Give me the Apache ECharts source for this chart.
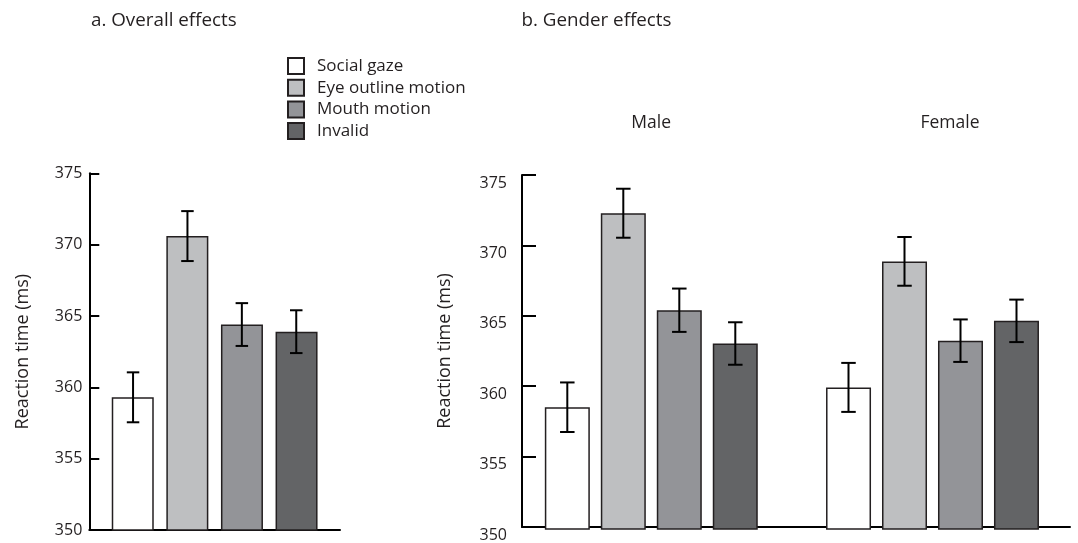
<!DOCTYPE html>
<html><head><meta charset="utf-8">
<script src="https://cdn.jsdelivr.net/npm/echarts@6/dist/echarts.min.js"></script>
<style>html,body{margin:0;padding:0;background:#fff}#c{width:1078px;height:543px}</style>
</head><body><div id="c"></div>
<script>
// ---- data ----
const conditions = ['Social gaze', 'Eye outline motion', 'Mouth motion', 'Invalid'];
const overallRT = [359.3, 370.6, 364.4, 363.9];
const overallSE = [1.75, 1.75, 1.5, 1.5];
const genders = ['Male', 'Female'];
const maleRT = [358.6, 372.3, 365.45, 363.1];
const maleSE = [1.75, 1.73, 1.53, 1.5];
const femaleRT = [360.0, 368.9, 363.3, 364.7];
const femaleSE = [1.73, 1.72, 1.5, 1.5];
const yMin = 350, yMax = 375, yStep = 5;
const panelTitles = ['a. Overall effects', 'b. Gender effects'];
const yName = 'Reaction time (ms)';

// ---- style ----
const fills = ['#ffffff', '#bebfc1', '#939498', '#636466'];
const ink = '#231f20';
const font = 'Open Sans';

function errSeries(xIdx, yIdx, rows, barW, gapPx, capW) {
  return {
    type: 'custom', xAxisIndex: xIdx, yAxisIndex: yIdx, z: 10, silent: true,
    data: rows,
    renderItem: function (params, api) {
      const cat = api.value(0), m = api.value(1), e = api.value(2), s = api.value(3);
      const c = api.coord([cat, m]);
      const x = c[0] + (s - 1.5) * (barW + gapPx);
      const yHi = api.coord([cat, m + e])[1];
      const yLo = api.coord([cat, m - e])[1];
      const st = { stroke: '#000', lineWidth: 2 };
      return { type: 'group', children: [
        { type: 'line', shape: { x1: x, y1: yHi, x2: x, y2: yLo }, style: st },
        { type: 'line', shape: { x1: x - capW / 2, y1: yHi, x2: x + capW / 2, y2: yHi }, style: st },
        { type: 'line', shape: { x1: x - capW / 2, y1: yLo, x2: x + capW / 2, y2: yLo }, style: st }
      ]};
    }
  };
}

const overallRows = overallRT.map((v, i) => [0, v, overallSE[i], i]);
const genderRows = [];
maleRT.forEach((v, i) => genderRows.push([0, v, maleSE[i], i]));
femaleRT.forEach((v, i) => genderRows.push([1, v, femaleSE[i], i]));

const series = [];
conditions.forEach((name, i) => {
  series.push({
    type: 'bar', name: name, xAxisIndex: 0, yAxisIndex: 0,
    data: [overallRT[i]], barWidth: 42, barGap: '30%',
    itemStyle: { color: fills[i], borderColor: ink, borderWidth: 1.5 }
  });
});
conditions.forEach((name, i) => {
  series.push({
    type: 'bar', name: name, xAxisIndex: 1, yAxisIndex: 1,
    data: [maleRT[i], femaleRT[i]], barWidth: 45, barGap: '24.4%',
    itemStyle: { color: fills[i], borderColor: ink, borderWidth: 1.5 }
  });
});
series.push(errSeries(0, 0, overallRows, 42, 12.4, 12.5));
series.push(errSeries(1, 1, genderRows, 45, 11, 14.5));

const axisLine = { show: true, lineStyle: { color: '#000', width: 2 } };
const hiddenY = { type: 'value', min: yMin, max: yMax, interval: yStep, show: false };

const option = {
  animation: false,
  backgroundColor: '#fff',
  textStyle: { fontFamily: font, color: ink },
  title: [
    { text: panelTitles[0], left: 91, top: 11, padding: 0, textStyle: { fontFamily: font, fontSize: 18.8, fontWeight: 'normal', color: ink } },
    { text: panelTitles[1], left: 521.5, top: 11, padding: 0, textStyle: { fontFamily: font, fontSize: 18.8, fontWeight: 'normal', color: ink } }
  ],
  legend: {
    data: conditions, orient: 'vertical', left: 287, top: 57, padding: 0,
    icon: 'rect', itemWidth: 16, itemHeight: 16, itemGap: 3.7,
    textStyle: { fontFamily: font, fontSize: 17, color: ink, padding: [0, 0, 0, 8] },
    selectedMode: false
  },
  grid: [
    { left: 89.3, right: 738, top: 173.3, bottom: 13 },
    { left: 510.7, right: 4.9, top: 175, bottom: 14 },
    { left: 522, right: 8, top: 175, bottom: 14 },
    { left: 651.2, right: 128, top: 175, bottom: 14 }
  ],
  xAxis: [
    { type: 'category', gridIndex: 0, data: [''], axisLine: axisLine, axisTick: { show: false }, axisLabel: { show: false } },
    { type: 'category', gridIndex: 1, data: genders, show: false },
    { type: 'value', gridIndex: 2, min: 0, max: 1, axisLine: axisLine, axisTick: { show: false }, axisLabel: { show: false }, splitLine: { show: false } },
    { type: 'category', gridIndex: 3, data: genders, position: 'top', boundaryGap: false,
      axisLine: { show: false }, axisTick: { show: false },
      axisLabel: { margin: 43, fontFamily: font, fontSize: 17.5, color: ink } }
  ],
  yAxis: [
    { type: 'value', gridIndex: 0, min: yMin, max: yMax, interval: yStep,
      axisLine: axisLine, axisTick: { show: true, inside: true, length: 10, lineStyle: { color: '#000', width: 2 } },
      axisLabel: { margin: 7, fontFamily: font, fontSize: 16, color: ink },
      splitLine: { show: false },
      name: yName, nameLocation: 'middle', nameGap: 57,
      nameTextStyle: { fontFamily: font, fontSize: 18, color: ink } },
    Object.assign({ gridIndex: 1 }, hiddenY),
    { type: 'value', gridIndex: 2, min: yMin, max: yMax, interval: yStep,
      axisLine: axisLine, axisTick: { show: true, inside: true, length: 14, lineStyle: { color: '#000', width: 2 } },
      axisLabel: { margin: 15, verticalAlign: 'top', fontFamily: font, fontSize: 16, color: ink },
      splitLine: { show: false },
      name: yName, nameLocation: 'middle', nameGap: 68,
      nameTextStyle: { fontFamily: font, fontSize: 18, color: ink } },
    Object.assign({ gridIndex: 3 }, hiddenY)
  ],
  series: series
};

const chart = echarts.init(document.getElementById('c'), null, { renderer: 'canvas' });
chart.setOption(option);
</script>
</body></html>
